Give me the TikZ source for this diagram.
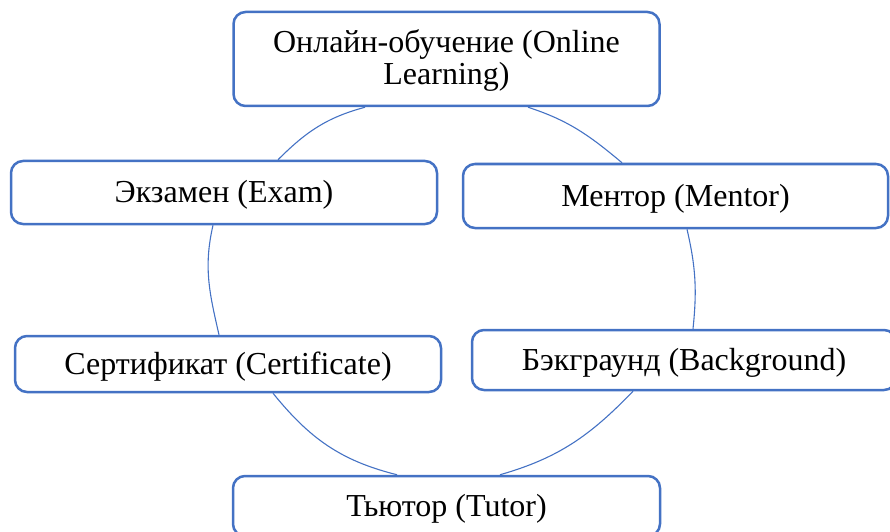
\documentclass[tikz,border=0pt]{standalone}
\usepackage{fontspec}
\setmainfont{Liberation Serif}
\usetikzlibrary{calc}
\definecolor{ringblue}{HTML}{4472C4}
\begin{document}
\begin{tikzpicture}[x=1pt,y=1pt,
  stagebox/.style={draw=ringblue, line width=2.5pt, rounded corners=12pt, fill=white,
    minimum width=426pt, inner sep=0pt, align=center,
    text height=28pt, text depth=8pt,
    font=\fontsize{32}{32}\selectfont},
  ringlink/.style={draw=ringblue, line width=1.1pt}]
\useasboundingbox (0,0) rectangle (890,531);
\clip (0,0) rectangle (890,531);
% stages of the cycle
\node[stagebox, minimum height=94pt, text height=60pt, text depth=8pt] (online) at (446.5,472) {Онлайн-обучение (Online\\Learning)};
\node[stagebox, minimum height=63pt] (exam)   at (224,338.5) {Экзамен (Exam)};
\node[stagebox, minimum height=64pt, minimum width=425pt] (mentor) at (675.5,335) {Ментор (Mentor)};
\node[stagebox, minimum height=56pt] (cert)   at (228,167) {Сертификат (Certificate)};
\node[stagebox, minimum height=60pt, minimum width=424pt] (backg)  at (684,171) {Бэкграунд (Background)};
\node[stagebox, minimum height=60pt, minimum width=427pt] (tutor)  at (446.5,25) {Тьютор (Tutor)};
% ring segments joining neighbouring stages
\draw[ringlink] ([xshift=54pt]exam.north) to[out=45,in=195] ([xshift=-81.5pt]online.south);
\draw[ringlink] ([xshift=81.5pt]online.south) to[out=-18,in=140] ([xshift=-53.5pt]mentor.north);
\draw[ringlink] ([xshift=11.5pt]mentor.south) to[out=-77,in=84] ([xshift=9pt]backg.north);
\draw[ringlink] ([xshift=-51pt]backg.south) to[out=-134,in=16] ([xshift=53.5pt]tutor.north);
\draw[ringlink] ([xshift=-49.5pt]tutor.north) to[out=166,in=-51] ([xshift=45pt]cert.south);
\draw[ringlink] ([xshift=-9pt]cert.north) to[out=103,in=-103] ([xshift=-11pt]exam.south);
\end{tikzpicture}
\end{document}
